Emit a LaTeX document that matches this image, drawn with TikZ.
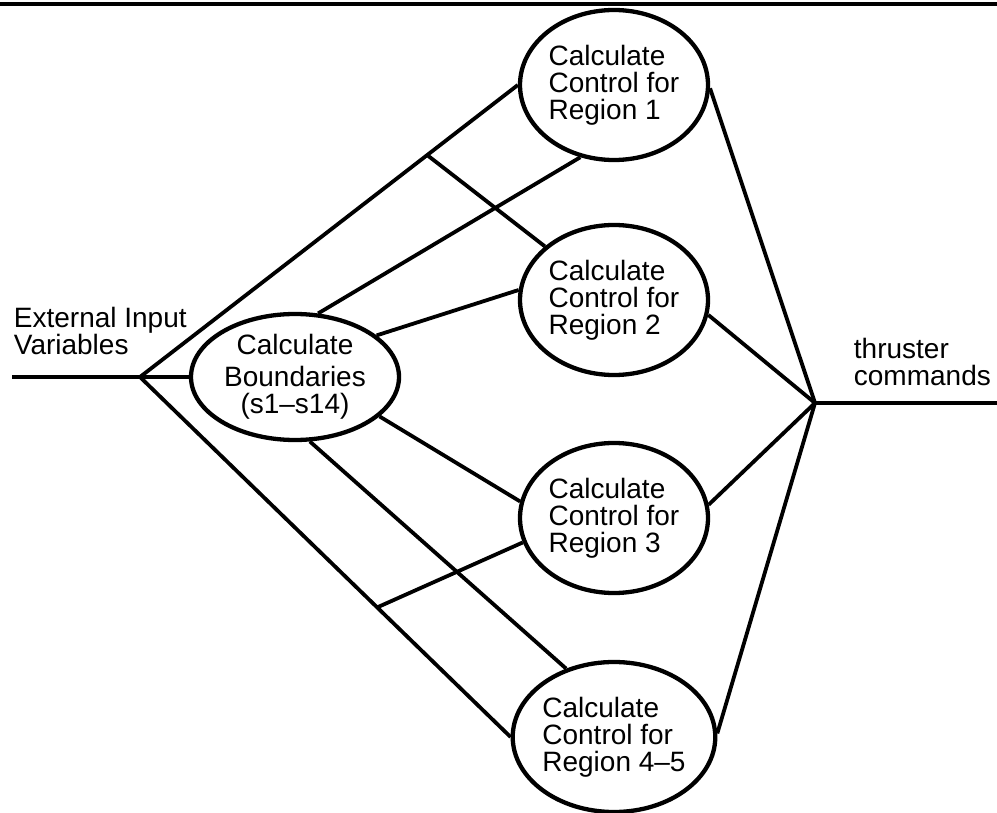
\documentclass[tikz,border=0pt]{standalone}
\usepackage{fontspec}
\setmainfont{Liberation Sans}
\usetikzlibrary{shapes.geometric,calc}

\begin{document}
\begin{tikzpicture}[x=1pt, y=-1pt, line width=3.8pt,
    font=\fontsize{28}{27}\selectfont,
    region/.style={draw, ellipse, line width=4.3pt, minimum width=188pt,
        minimum height=150pt, inner sep=0pt, align=left},
    bound/.style={draw, ellipse, line width=4.3pt, minimum width=208pt,
        minimum height=126pt, inner sep=0pt, align=center},
    txt/.style={anchor=base west, inner sep=0pt, align=left}]

    \useasboundingbox (0,0) rectangle (997,813);

    % --- top rule ---
    \draw[line width=4.5pt] (0,4) -- (997,4);

    % --- ellipses ---
    \node[bound]  (B)   at (295,377) {Calculate\\[5pt]Boundaries\\(s1--s14)};
    \node[region] (R1)  at (614,85)  {Calculate\\Control for\\Region 1};
    \node[region] (R2)  at (614,300) {Calculate\\Control for\\Region 2};
    \node[region] (R3)  at (614,518) {Calculate\\Control for\\Region 3};
    \node[region] (R45) at (614,737) {Calculate\\Control for\\Region 4--5};

    % --- labels (anchored on the last line) ---
    \node[txt] (ext) at (12,355)  {External Input\\Variables};
    \node[txt] (thr) at (852,385) {thruster\\commands};

    % --- input and output ---
    \coordinate (in)  at (12,377);
    \coordinate (J)   at (140,377);
    \coordinate (H)   at (815,403);
    \coordinate (out) at (997,403);

    \draw (in) -- (J) -- (B);
    \draw (J) -- (R1.west);
    \draw (J) -- (R45.west);

    % cross branches off the outer lines
    \coordinate (P1) at ($(J)!0.76!(R1.west)$);
    \coordinate (P2) at ($(J)!0.64!(R45.west)$);
    \draw (P1) -- (R2);
    \draw (P2) -- (R3.195);

    % --- boundaries to regions ---
    \draw (B.70)  -- (R1.245);
    \draw (B.27)  -- (R2.174);
    \draw (B.335) -- (R3.170);
    \draw (B.283) -- (R45.125);

    % --- regions to thruster commands ---
    \draw (R1.358) -- (H);
    \draw (R2.351) -- (H);
    \draw (R3.8)   -- (H);
    \draw (R45.2)  -- (H);
    \draw (H) -- (out);

\end{tikzpicture}
\end{document}
